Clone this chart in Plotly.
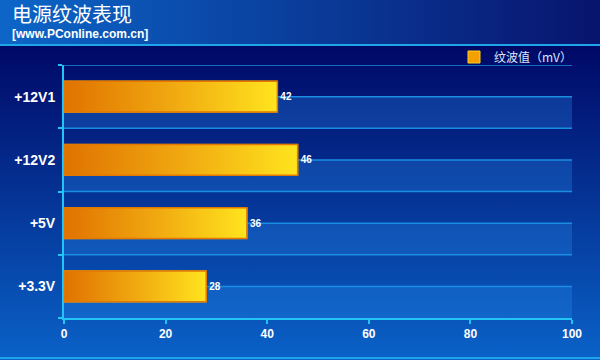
import base64
import plotly.graph_objects as go

# ---- data ----
categories = ["+12V1", "+12V2", "+5V", "+3.3V"]
ripple_mv = [42, 46, 36, 28]
x_ticks = [0, 20, 40, 60, 80, 100]
series_name = "纹波值（mV）"
title_text = "电源纹波表现"
source_text = "[www.PConline.com.cn]"

# ---- geometry helpers ----
W, H = 600, 360
ML, MR, MT, MB = 64, 28, 65, 42
PW, PH = W - ML - MR, H - MT - MB
n = len(categories)
ypos = [n - 1 - i for i in range(n)]  # top to bottom
bar_w = 0.49

CYAN = "#22c4f6"
LINE = "#1a8ee2"

svg = f'''<svg xmlns="http://www.w3.org/2000/svg" width="{W}" height="{H}" viewBox="0 0 {W} {H}" preserveAspectRatio="none">
<defs>
<linearGradient id="h" x1="0" y1="0" x2="1" y2="0"><stop offset="0" stop-color="#0c66c8"/><stop offset="1" stop-color="#08146e"/></linearGradient>
<linearGradient id="v" x1="0" y1="0" x2="0" y2="1"><stop offset="0" stop-color="#000866"/><stop offset="1" stop-color="#0a62c8"/></linearGradient>
</defs>
<rect x="0" y="0" width="{W}" height="46" fill="url(#h)"/>
<rect x="0" y="46" width="{W}" height="{H-46}" fill="url(#v)"/>
</svg>'''
bg_uri = "data:image/svg+xml;base64," + base64.b64encode(svg.encode()).decode()

fig = go.Figure()

# base bar trace (gives legend entry and value labels)
fig.add_trace(go.Bar(
    x=ripple_mv, y=ypos, orientation="h", width=bar_w,
    name=series_name,
    marker=dict(color="#f4a000", line=dict(color="#ffd21e", width=1)),
    text=[str(v) for v in ripple_mv], textposition="outside",
    textfont=dict(color="white", size=10, family="Liberation Sans", weight="bold"),
    cliponaxis=False, hoverinfo="skip",
))

# gradient fills on top of each bar, built from the same values
for v, yc in zip(ripple_mv, ypos):
    y0, y1 = yc - bar_w / 2, yc + bar_w / 2
    fig.add_trace(go.Scatter(
        x=[0, v, v, 0, 0], y=[y0, y0, y1, y1, y0],
        mode="lines", fill="toself",
        fillgradient=dict(type="horizontal", start=0, stop=v,
                          colorscale=[[0, "#e07200"], [0.5, "#f0a810"], [1, "#ffe41e"]]),
        line=dict(color="#e47800", width=1.5),
        showlegend=False, hoverinfo="skip",
    ))

shapes = []
# lighter lower-half strips and lines
for yc in ypos:
    shapes.append(dict(type="rect", xref="x", yref="y", x0=0, x1=100, y0=yc - 0.5, y1=yc,
                       fillcolor="rgba(40,140,235,0.30)", line=dict(width=0), layer="below"))
    shapes.append(dict(type="line", xref="x", yref="y", x0=0, x1=100, y0=yc, y1=yc,
                       line=dict(color=LINE, width=1.5), layer="below"))
    shapes.append(dict(type="line", xref="x", yref="y", x0=0, x1=100, y0=yc + 0.5, y1=yc + 0.5,
                       line=dict(color=LINE, width=1.5), layer="below"))
# header separator & bottom line
px0, px1 = -ML / PW, (W - ML) / PW
shapes.append(dict(type="line", xref="paper", yref="paper", x0=px0, x1=px1,
                   y0=1 + (MT - 45) / PH, y1=1 + (MT - 45) / PH,
                   line=dict(color="#1ea4e8", width=2)))
shapes.append(dict(type="line", xref="paper", yref="paper", x0=px0, x1=px1,
                   y0=-(358 - (H - MB)) / PH, y1=-(358 - (H - MB)) / PH,
                   line=dict(color="#1ea4e8", width=2)))

fig.update_layout(
    width=W, height=H,
    margin=dict(l=ML, r=MR, t=MT, b=MB),
    paper_bgcolor="#03307e", plot_bgcolor="rgba(0,0,0,0)",
    images=[dict(source=bg_uri, xref="paper", yref="paper", x=-ML / PW, y=1 + MT / PH,
                 sizex=W / PW, sizey=H / PH, xanchor="left", yanchor="top",
                 sizing="stretch", layer="below")],
    title=dict(text=title_text, xref="container", yref="container", x=12 / W, xanchor="left",
               y=1 - 15 / H, yanchor="middle",
               font=dict(family="Noto Sans CJK SC", size=20, color="white")),
    annotations=[dict(text=source_text, xref="paper", yref="paper", x=-(ML - 10) / PW, xanchor="left",
                      y=1 + (MT - 34) / PH, yanchor="middle", showarrow=False,
                      font=dict(family="Liberation Sans", size=12, color="white", weight="bold"))],
    shapes=shapes,
    showlegend=True,
    legend=dict(x=1 + 5 / PW, xanchor="right", y=1 + (MT - 57) / PH, yanchor="middle",
                bgcolor="rgba(0,0,0,0)", font=dict(family="Noto Sans CJK SC", size=12, color="#dde6ff"),
                itemwidth=30),
    xaxis=dict(range=[0, 100], tickvals=x_ticks, ticks="outside", ticklen=4, tickwidth=2,
               tickcolor=CYAN, showline=True, linecolor=CYAN, linewidth=2, showgrid=False,
               zeroline=False, fixedrange=True,
               tickfont=dict(family="Liberation Sans", size=12, color="white", weight="bold")),
    yaxis=dict(range=[-0.5, n - 0.5], tickvals=ypos, ticktext=categories, ticks="",
               showline=True, linecolor=CYAN, linewidth=2, showgrid=False, zeroline=False,
               ticklabelstandoff=4, fixedrange=True,
               minor=dict(tickmode="array", tickvals=[y + 0.5 for y in range(-1, n)],
                          ticks="outside", ticklen=4, tickwidth=2, tickcolor=CYAN, showgrid=False),
               tickfont=dict(family="Liberation Sans", size=14, color="white", weight="bold")),
    bargap=0.5,
)

fig.write_html("out.html", config={"displayModeBar": False},
               post_script="document.body.style.margin='0';document.body.style.padding='0';")
